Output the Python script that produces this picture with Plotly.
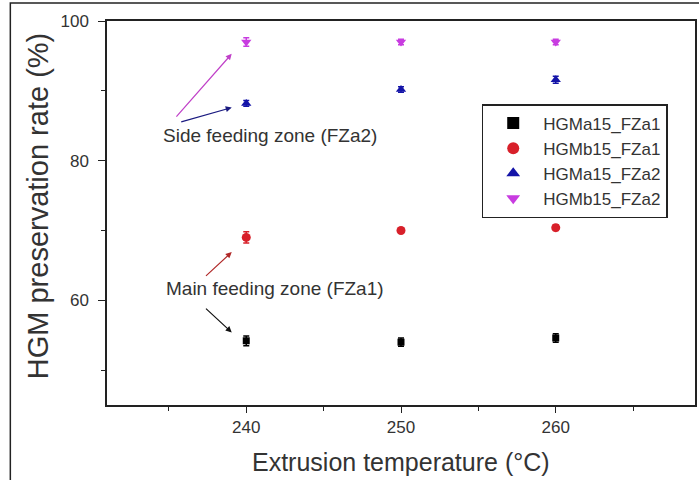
import plotly.graph_objects as go

temps = [240, 250, 260]
series_names = ["HGMa15_FZa1", "HGMb15_FZa1", "HGMa15_FZa2", "HGMb15_FZa2"]
a15_fza1 = [54.2, 54.0, 54.6]
a15_fza1_err = [0.7, 0.6, 0.6]
b15_fza1 = [69.0, 70.0, 70.4]
b15_fza1_err = [0.8, 0.4, 0.4]
a15_fza2 = [88.2, 90.2, 91.6]
a15_fza2_err = [0.4, 0.4, 0.5]
b15_fza2 = [97.0, 97.0, 97.0]
b15_fza2_err = [0.6, 0.4, 0.4]
x_ticks = [240, 250, 260]
y_ticks = [60, 80, 100]

colors = ["#000000", "#d8202a", "#1414a8", "#c83ce0"]
symbols = ["square", "circle", "triangle-up", "triangle-down"]
values = [a15_fza1, b15_fza1, a15_fza2, b15_fza2]
errors = [a15_fza1_err, b15_fza1_err, a15_fza2_err, b15_fza2_err]

fig = go.Figure()
for name, v, e, c, s in zip(series_names, values, errors, colors, symbols):
    fig.add_trace(go.Scatter(
        x=temps, y=v, mode="markers", name=name,
        marker=dict(symbol=s, size=9 if s != "square" else 7, color=c),
        error_y=dict(type="data", array=e, color=c, thickness=1.5, width=3),
    ))

FONT = "Liberation Sans, Arial, sans-serif"
L, R, T, B = 107, 2, 21, 75
W, H = 699, 480
pw, ph = W - L - R, H - T - B

fig.update_layout(
    width=W, height=H,
    margin=dict(l=L, r=R, t=T, b=B),
    paper_bgcolor="white", plot_bgcolor="white",
    font=dict(family=FONT, color="#333333"),
    showlegend=True,
    legend=dict(
        x=(483 - L) / pw, y=1 - (104 - T) / ph, xanchor="left", yanchor="top",
        bordercolor="#222222", borderwidth=1.5, bgcolor="white",
        font=dict(size=17, family=FONT, color="#333333"),
        tracegroupgap=0, itemsizing="constant", itemwidth=50,
    ),
    xaxis=dict(
        range=[231, 269], tickvals=x_ticks, ticks="outside", ticklen=6,
        tickcolor="#222222", showline=True, linecolor="#222222", linewidth=1.5,
        mirror=True, showgrid=False, zeroline=False,
        tickfont=dict(size=17, color="#333333"),
        minor=dict(tickvals=[235, 245, 255, 265], ticks="outside", ticklen=4, tickcolor="#222222"),
    ),
    yaxis=dict(
        range=[45, 100], tickvals=y_ticks, ticks="outside", ticklen=7,
        tickcolor="#222222", showline=True, linecolor="#222222", linewidth=1.5,
        mirror=True, showgrid=False, zeroline=False, ticklabelstandoff=6,
        tickfont=dict(size=17, color="#333333"),
        minor=dict(tickvals=[50, 70, 90], ticks="outside", ticklen=4, tickcolor="#222222"),
    ),
)

# axis titles
fig.add_annotation(x=250, y=-(462 - T - ph) / ph, xref="x", yref="paper",
                   text="Extrusion temperature (°C)", showarrow=False,
                   xanchor="center", yanchor="middle",
                   font=dict(size=25, family=FONT, color="#333333"))
fig.add_annotation(x=(38 - L) / pw, y=1 - (206 - T) / ph, xref="paper", yref="paper",
                   text="HGM preservation rate (%)", showarrow=False, textangle=-90,
                   xanchor="center", yanchor="middle",
                   font=dict(size=29, family=FONT, color="#333333"))

# outer frame
fig.add_shape(type="rect", xref="paper", yref="paper",
              x0=(10 - L) / pw, x1=(W + 5 - L) / pw,
              y0=-(H + 5 - T - ph) / ph, y1=1 + (T - 3) / ph,
              line=dict(color="#222222", width=1.5), fillcolor="rgba(0,0,0,0)", layer="below")

arrows = [
    (239.06, 95.3, 235.4, 86.1, "#c040c8"),
    (239.06, 87.6, 235.7, 85.5, "#1a1a80"),
    (239.06, 66.9, 237.3, 63.3, "#b02828"),
    (239.06, 55.4, 237.3, 59.0, "#111111"),
]
for hx, hy, tx, ty, c in arrows:
    fig.add_annotation(x=hx, y=hy, ax=tx, ay=ty, xref="x", yref="y", axref="x", ayref="y",
                       showarrow=True, arrowhead=2, arrowsize=1, arrowwidth=1.2, arrowcolor=c, text="")

fig.add_annotation(x=234.5, y=83.6, xref="x", yref="y", text="Side feeding zone (FZa2)",
                   showarrow=False, xanchor="left", yanchor="middle",
                   font=dict(size=19, family=FONT, color="#333333"))
fig.add_annotation(x=234.7, y=61.7, xref="x", yref="y", text="Main feeding zone (FZa1)",
                   showarrow=False, xanchor="left", yanchor="middle",
                   font=dict(size=19, family=FONT, color="#333333"))

fig.write_html("out.html", config={"displayModeBar": False},
               post_script="document.body.style.margin='0';document.body.style.overflow='hidden';")
